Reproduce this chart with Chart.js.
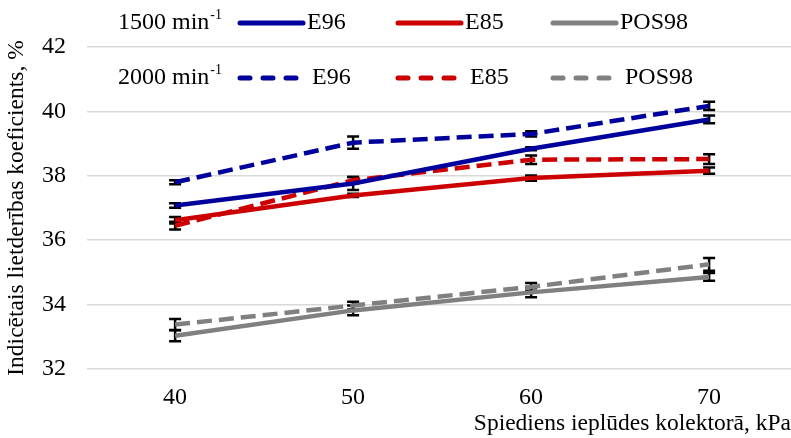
<!DOCTYPE html>
<html lang="lv">
<head>
  <meta charset="UTF-8">
  <title>Indicētais lietderības koeficients</title>
  <script src="https://cdn.jsdelivr.net/npm/chart.js"></script>
  <style>
    html, body { margin: 0; padding: 0; background: #fff; }
    .wrap { width: 791px; height: 438px; position: relative; }
  </style>
</head>
<body>
  <div class="wrap"><canvas id="chart"></canvas></div>

  <script>
    // spiediens, kPa
    const pressure = [40, 50, 60, 70];

    // 1500 min-1
    const e96_1500 = [37.08, 37.76, 38.84, 39.75];
    const e85_1500 = [36.62, 37.39, 37.93, 38.16];
    const pos_1500 = [33.03, 33.82, 34.38, 34.86];
    // 2000 min-1
    const e96_2000 = [37.80, 39.03, 39.30, 40.17];
    const e85_2000 = [36.45, 37.86, 38.50, 38.52];
    const pos_2000 = [33.38, 33.97, 34.55, 35.25];

    // kļūdu joslas (±)
    const err_e96_1500 = [0.07, 0.20, 0.05, 0.12];
    const err_e85_1500 = [0.10, 0.05, 0.08, 0.10];
    const err_pos_1500 = [0.17, 0.15, 0.15, 0.12];
    const err_e96_2000 = [0.06, 0.19, 0.08, 0.13];
    const err_e85_2000 = [0.12, 0.10, 0.13, 0.15];
    const err_pos_2000 = [0.17, 0.12, 0.12, 0.20];

    const yTicks = [32, 34, 36, 38, 40, 42];
    const fuels = ['E96', 'E85', 'POS98'];
    const speeds = ['1500 min', '2000 min'];

    const BLUE = '#00009c', RED = '#cc0000', GRAY = '#808080';
    const SERIF = '"Liberation Serif", "Times New Roman", serif';
    const DASH = [15, 7];

    function series(label, vals, errs, color, dashed) {
      return {
        label: label,
        data: vals.map((v, i) => ({ x: pressure[i], y: v })),
        errors: errs,
        borderColor: color,
        backgroundColor: color,
        borderWidth: 4.5,
        borderDash: dashed ? DASH : [],
        pointRadius: 0,
        tension: 0,
        fill: false
      };
    }

    const datasets = [
      series('E96', e96_1500, err_e96_1500, BLUE, false),
      series('E85', e85_1500, err_e85_1500, RED, false),
      series('POS98', pos_1500, err_pos_1500, GRAY, false),
      series('E96', e96_2000, err_e96_2000, BLUE, true),
      series('E85', e85_2000, err_e85_2000, RED, true),
      series('POS98', pos_2000, err_pos_2000, GRAY, true)
    ];

    // kļūdu joslas zem līnijām
    const errorBars = {
      id: 'errorBars',
      beforeDatasetsDraw(chart) {
        const ctx = chart.ctx, xs = chart.scales.x, ys = chart.scales.y;
        ctx.save();
        ctx.strokeStyle = '#000';
        ctx.lineWidth = 2.5;
        chart.data.datasets.forEach(ds => {
          ds.data.forEach((p, i) => {
            const e = ds.errors[i];
            const px = xs.getPixelForValue(p.x);
            const top = ys.getPixelForValue(p.y + e);
            const bot = ys.getPixelForValue(p.y - e);
            ctx.beginPath();
            ctx.moveTo(px, top); ctx.lineTo(px, bot);
            ctx.moveTo(px - 6, top); ctx.lineTo(px + 6, top);
            ctx.moveTo(px - 6, bot); ctx.lineTo(px + 6, bot);
            ctx.stroke();
          });
        });
        ctx.restore();
      }
    };

    // leģenda divās rindās
    const rowLegend = {
      id: 'rowLegend',
      afterDraw(chart) {
        const ctx = chart.ctx;
        const rows = [23, 78];
        const cols = [237, 395, 550];
        ctx.save();
        ctx.fillStyle = '#000';
        ctx.textBaseline = 'middle';
        rows.forEach((y, r) => {
          ctx.font = '24px ' + SERIF;
          ctx.fillText(speeds[r], 118, y);
          const w = ctx.measureText(speeds[r]).width;
          ctx.font = '14px ' + SERIF;
          ctx.fillText('-1', 118 + w + 1, y - 8);
          cols.forEach((x0, c) => {
            const ds = chart.data.datasets[r * 3 + c];
            ctx.beginPath();
            ctx.strokeStyle = ds.borderColor;
            ctx.lineWidth = 5;
            ctx.lineCap = 'round';
            if (r === 0) {
              ctx.moveTo(x0 + 3, y); ctx.lineTo(x0 + 66, y);
            } else {
              ctx.setLineDash([10, 13]);
              ctx.moveTo(x0 + 3, y); ctx.lineTo(x0 + 62, y);
            }
            ctx.stroke();
            ctx.setLineDash([]);
            ctx.font = '24px ' + SERIF;
            ctx.fillText(fuels[c], x0 + (r === 0 ? 70 : 75), y);
          });
        });
        ctx.restore();
      }
    };

    new Chart(document.getElementById('chart'), {
      type: 'line',
      data: { datasets: datasets },
      plugins: [errorBars, rowLegend],
      options: {
        responsive: true,
        maintainAspectRatio: false,
        animation: false,
        layout: { padding: { top: 47, left: 0, right: 0, bottom: 0 } },
        plugins: { legend: { display: false }, tooltip: { enabled: false } },
        scales: {
          x: {
            type: 'linear',
            min: 35.05,
            max: 74.6,
            afterBuildTicks: axis => { axis.ticks = pressure.map(v => ({ value: v })); },
            afterFit: axis => { axis.height = 69; },
            grid: { display: false, drawTicks: false },
            border: { display: false },
            ticks: { color: '#000', font: { family: SERIF, size: 24 }, padding: 14, maxRotation: 0 },
            title: {
              display: true,
              text: 'Spiediens ieplūdes kolektorā, kPa',
              align: 'end',
              color: '#000',
              font: { family: SERIF, size: 23.5, lineHeight: 1 },
              padding: { top: 2, bottom: 2 }
            }
          },
          y: {
            min: 32,
            max: 42,
            afterBuildTicks: axis => { axis.ticks = yTicks.map(v => ({ value: v })); },
            afterFit: axis => { axis.width = 87; },
            grid: { color: '#d9d9d9', lineWidth: 1.5, drawTicks: false },
            border: { display: false },
            ticks: { color: '#000', font: { family: SERIF, size: 24 }, padding: 21 },
            title: {
              display: true,
              text: 'Indicētais lietderības koeficients, %',
              color: '#000',
              font: { family: SERIF, size: 23.5 },
              padding: { top: 3, bottom: 10 }
            }
          }
        }
      }
    });
  </script>
</body>
</html>
